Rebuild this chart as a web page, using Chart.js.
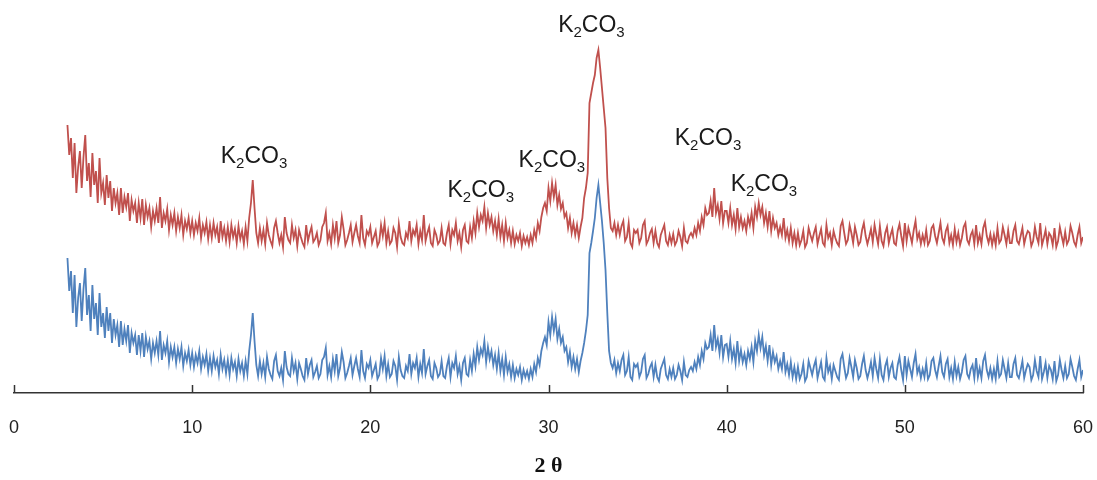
<!DOCTYPE html>
<html>
<head>
<meta charset="utf-8">
<script src="https://cdn.jsdelivr.net/npm/chart.js@4.4.1/dist/chart.umd.min.js"></script>
<style>
  html, body { margin: 0; padding: 0; background: #fff; }
  #wrap { width: 1097px; height: 480px; position: relative; }
</style>
</head>
<body>
<div id="wrap"><canvas id="xrd"></canvas></div>
<script>
'use strict';

// scan angles (2 theta, degrees), one row per degree
const twoTheta = [
  3.0,3.1,3.2,3.3,3.4,3.5,3.6,3.7,3.8,3.9,
  4.0,4.1,4.2,4.3,4.4,4.5,4.6,4.7,4.8,4.9,
  5.0,5.1,5.2,5.3,5.4,5.5,5.6,5.7,5.8,5.9,
  6.0,6.1,6.2,6.3,6.4,6.5,6.6,6.7,6.8,6.9,
  7.0,7.1,7.2,7.3,7.4,7.5,7.6,7.7,7.8,7.9,
  8.0,8.1,8.2,8.3,8.4,8.5,8.6,8.7,8.8,8.9,
  9.0,9.1,9.2,9.3,9.4,9.5,9.6,9.7,9.8,9.9,
  10.0,10.1,10.2,10.3,10.4,10.5,10.6,10.7,10.8,10.9,
  11.0,11.1,11.2,11.3,11.4,11.5,11.6,11.7,11.8,11.9,
  12.0,12.1,12.2,12.3,12.4,12.5,12.6,12.7,12.8,12.9,
  13.0,13.1,13.2,13.3,13.4,13.5,13.6,13.7,13.8,13.9,
  14.0,14.1,14.2,14.3,14.4,14.5,14.6,14.7,14.8,14.9,
  15.0,15.1,15.2,15.3,15.4,15.5,15.6,15.7,15.8,15.9,
  16.0,16.1,16.2,16.3,16.4,16.5,16.6,16.7,16.8,16.9,
  17.0,17.1,17.2,17.3,17.4,17.5,17.6,17.7,17.8,17.9,
  18.0,18.1,18.2,18.3,18.4,18.5,18.6,18.7,18.8,18.9,
  19.0,19.1,19.2,19.3,19.4,19.5,19.6,19.7,19.8,19.9,
  20.0,20.1,20.2,20.3,20.4,20.5,20.6,20.7,20.8,20.9,
  21.0,21.1,21.2,21.3,21.4,21.5,21.6,21.7,21.8,21.9,
  22.0,22.1,22.2,22.3,22.4,22.5,22.6,22.7,22.8,22.9,
  23.0,23.1,23.2,23.3,23.4,23.5,23.6,23.7,23.8,23.9,
  24.0,24.1,24.2,24.3,24.4,24.5,24.6,24.7,24.8,24.9,
  25.0,25.1,25.2,25.3,25.4,25.5,25.6,25.7,25.8,25.9,
  26.0,26.1,26.2,26.3,26.4,26.5,26.6,26.7,26.8,26.9,
  27.0,27.1,27.2,27.3,27.4,27.5,27.6,27.7,27.8,27.9,
  28.0,28.1,28.2,28.3,28.4,28.5,28.6,28.7,28.8,28.9,
  29.0,29.1,29.2,29.3,29.4,29.5,29.6,29.7,29.8,29.9,
  30.0,30.1,30.2,30.3,30.4,30.5,30.6,30.7,30.8,30.9,
  31.0,31.1,31.2,31.3,31.4,31.5,31.6,31.7,31.8,31.9,
  32.0,32.1,32.2,32.3,32.4,32.5,32.6,32.7,32.8,32.9,
  33.0,33.1,33.2,33.3,33.4,33.5,33.6,33.7,33.8,33.9,
  34.0,34.1,34.2,34.3,34.4,34.5,34.6,34.7,34.8,34.9,
  35.0,35.1,35.2,35.3,35.4,35.5,35.6,35.7,35.8,35.9,
  36.0,36.1,36.2,36.3,36.4,36.5,36.6,36.7,36.8,36.9,
  37.0,37.1,37.2,37.3,37.4,37.5,37.6,37.7,37.8,37.9,
  38.0,38.1,38.2,38.3,38.4,38.5,38.6,38.7,38.8,38.9,
  39.0,39.1,39.2,39.3,39.4,39.5,39.6,39.7,39.8,39.9,
  40.0,40.1,40.2,40.3,40.4,40.5,40.6,40.7,40.8,40.9,
  41.0,41.1,41.2,41.3,41.4,41.5,41.6,41.7,41.8,41.9,
  42.0,42.1,42.2,42.3,42.4,42.5,42.6,42.7,42.8,42.9,
  43.0,43.1,43.2,43.3,43.4,43.5,43.6,43.7,43.8,43.9,
  44.0,44.1,44.2,44.3,44.4,44.5,44.6,44.7,44.8,44.9,
  45.0,45.1,45.2,45.3,45.4,45.5,45.6,45.7,45.8,45.9,
  46.0,46.1,46.2,46.3,46.4,46.5,46.6,46.7,46.8,46.9,
  47.0,47.1,47.2,47.3,47.4,47.5,47.6,47.7,47.8,47.9,
  48.0,48.1,48.2,48.3,48.4,48.5,48.6,48.7,48.8,48.9,
  49.0,49.1,49.2,49.3,49.4,49.5,49.6,49.7,49.8,49.9,
  50.0,50.1,50.2,50.3,50.4,50.5,50.6,50.7,50.8,50.9,
  51.0,51.1,51.2,51.3,51.4,51.5,51.6,51.7,51.8,51.9,
  52.0,52.1,52.2,52.3,52.4,52.5,52.6,52.7,52.8,52.9,
  53.0,53.1,53.2,53.3,53.4,53.5,53.6,53.7,53.8,53.9,
  54.0,54.1,54.2,54.3,54.4,54.5,54.6,54.7,54.8,54.9,
  55.0,55.1,55.2,55.3,55.4,55.5,55.6,55.7,55.8,55.9,
  56.0,56.1,56.2,56.3,56.4,56.5,56.6,56.7,56.8,56.9,
  57.0,57.1,57.2,57.3,57.4,57.5,57.6,57.7,57.8,57.9,
  58.0,58.1,58.2,58.3,58.4,58.5,58.6,58.7,58.8,58.9,
  59.0,59.1,59.2,59.3,59.4,59.5,59.6,59.7,59.8,59.9,
  60.0
];

// upper trace (red), offset intensity
const redCounts = [
  268,238,255,215,250,200,226,242,205,236,
  258,212,230,196,240,208,222,190,235,200,
  210,188,218,195,212,182,205,190,200,178,
  205,180,196,186,200,172,193,182,190,170,
  190,175,194,168,188,176,185,166,182,172,
  185,170,196,165,180,172,184,163,178,168,
  180,162,176,165,178,158,172,164,175,160,
  172,158,170,162,175,155,168,160,171,154,
  168,155,170,158,166,150,172,156,165,152,
  166,151,168,156,164,150,167,154,162,149,
  166,152,175,190,213,185,160,150,165,152,
  163,149,170,158,152,147,165,172,160,150,
  158,146,176,160,153,150,168,155,163,147,
  163,156,150,146,168,152,160,166,151,154,
  160,148,153,166,170,180,152,160,149,168,
  155,172,150,158,176,164,148,153,160,168,
  151,160,168,157,150,178,155,148,162,158,
  166,150,156,162,147,151,168,157,170,150,
  162,149,152,165,160,146,169,156,150,148,
  160,155,172,152,163,158,168,149,162,153,
  178,152,160,166,150,147,163,158,149,152,
  165,150,148,160,168,149,163,158,170,152,
  160,146,163,168,152,150,166,155,172,160,
  180,166,178,172,186,165,180,168,176,162,
  172,158,174,156,168,152,170,155,163,150,
  162,149,158,152,160,147,157,150,156,148,
  158,150,163,155,170,162,176,185,190,182,
  205,192,210,196,208,188,198,184,190,176,
  180,165,175,160,170,158,168,155,166,175,
  195,205,220,290,300,310,318,335,343,325,
  305,285,265,215,185,165,162,170,158,168,
  158,167,172,152,156,170,150,146,163,160,
  163,150,155,168,172,149,153,160,164,150,
  162,150,146,158,163,168,152,148,158,150,
  159,148,152,162,156,147,165,152,150,157,
  160,156,165,158,170,162,176,168,185,178,
  180,192,176,205,180,188,174,192,170,182,
  182,170,185,168,178,164,185,166,176,165,
  172,162,176,168,180,165,186,176,190,178,
  186,170,180,166,182,162,175,165,170,158,
  166,158,175,155,163,152,165,150,160,148,
  160,148,153,162,146,150,165,158,152,160,
  166,149,157,164,150,147,168,155,160,148,
  162,155,150,147,167,172,160,149,153,168,
  160,150,166,158,148,151,163,170,157,149,
  156,164,151,168,158,149,167,152,147,160,
  166,150,158,164,150,148,162,169,157,147,
  170,152,165,158,150,163,172,154,160,149,
  158,150,163,148,152,165,168,157,150,160,
  170,155,150,162,167,150,158,148,164,151,
  160,148,155,166,170,153,149,158,162,149,
  168,150,158,149,165,171,157,150,159,148,
  158,148,165,150,153,166,158,149,163,150,
  150,162,168,152,149,157,165,149,157,162,
  160,147,152,166,156,150,170,148,155,163,
  149,160,157,148,165,146,152,166,157,149,
  161,149,153,167,160,151,147,158,166,150,
  156
];

// lower trace (blue)
const blueCounts = [
  135,102,122,80,118,66,95,110,72,104,
  125,78,98,62,108,74,90,58,100,66,
  80,55,86,62,80,50,74,58,68,46,
  72,48,64,52,68,40,60,50,58,38,
  58,42,60,36,56,44,52,34,50,40,
  52,38,62,33,48,40,52,31,46,36,
  46,30,44,34,46,27,40,32,43,28,
  40,26,38,30,42,24,36,28,39,22,
  35,22,37,26,33,19,38,24,33,20,
  33,18,35,24,31,17,34,22,30,17,
  32,19,42,58,80,52,28,17,32,19,
  30,16,36,24,18,14,32,38,22,17,
  25,13,42,26,19,17,35,22,30,14,
  30,24,17,13,35,19,28,33,16,21,
  27,15,19,33,36,45,18,27,16,34,
  22,39,17,25,41,31,15,20,27,35,
  18,27,35,24,16,43,22,15,29,25,
  33,17,23,29,14,18,35,24,37,17,
  29,16,19,32,27,13,36,23,17,15,
  27,22,39,19,30,25,35,16,29,20,
  44,19,27,33,17,14,30,25,16,19,
  32,17,15,27,35,16,30,25,37,19,
  27,13,30,35,19,17,33,22,39,27,
  46,33,44,38,52,31,46,34,42,28,
  38,24,40,22,34,18,36,21,29,16,
  28,15,24,18,26,13,23,16,22,14,
  24,16,29,21,35,28,42,50,56,48,
  71,58,76,62,74,54,64,50,56,42,
  46,31,41,26,36,24,34,21,32,40,
  50,62,78,140,150,162,175,195,208,190,
  172,150,123,80,42,30,25,33,20,30,
  22,33,38,18,22,36,16,13,29,26,
  29,16,21,34,38,15,19,26,30,16,
  28,16,12,24,29,34,18,14,24,16,
  25,14,18,28,22,13,31,18,16,23,
  26,22,31,24,36,28,42,34,50,44,
  46,58,42,68,46,54,40,58,36,48,
  49,36,52,34,44,30,52,32,43,31,
  39,28,42,34,46,31,52,42,58,45,
  56,38,47,32,48,28,41,31,37,24,
  32,24,41,21,29,18,31,16,26,14,
  26,14,19,29,12,16,32,25,18,27,
  33,15,23,31,16,13,35,21,27,14,
  28,22,16,13,34,39,26,15,20,35,
  26,16,33,25,14,17,29,37,23,15,
  22,31,17,35,24,15,34,18,13,27,
  33,16,25,30,16,14,28,36,23,13,
  37,18,32,24,16,30,39,20,26,15,
  24,16,30,14,18,32,35,23,16,27,
  37,21,16,29,34,16,25,14,31,17,
  26,14,21,33,37,19,15,24,28,15,
  35,16,25,15,32,38,23,16,25,14,
  24,14,32,16,19,33,24,15,30,16,
  16,29,35,18,15,23,32,15,23,29,
  26,13,18,33,22,16,37,14,21,30,
  15,27,23,14,32,12,18,33,23,15,
  27,15,19,34,26,17,13,24,33,16,
  23
];

const xTicks = [0, 10, 20, 30, 40, 50, 60];

// peak labels: centre (2 theta) and baseline (counts)
const peakLabelX = [13.47, 26.2, 30.19, 32.41, 38.95, 42.09];
const peakLabelY = [230, 196, 226, 361, 248, 202];
const peakLabelParts = [['K', false], ['2', true], ['CO', false], ['3', true]];

const FONT = "'Liberation Sans', Arial, sans-serif";

const toPoints = (ys) => ys.map((y, i) => ({ x: twoTheta[i], y: y }));

// tick marks point up into the plot
const upTicks = {
  id: 'upTicks',
  afterDraw(chart) {
    const { ctx, chartArea, scales } = chart;
    ctx.save();
    ctx.strokeStyle = '#333';
    ctx.lineWidth = 1.5;
    xTicks.forEach(v => {
      const px = Math.round(scales.x.getPixelForValue(v)) + 0.5;
      ctx.beginPath();
      ctx.moveTo(px, chartArea.bottom);
      ctx.lineTo(px, chartArea.bottom - 8);
      ctx.stroke();
    });
    ctx.restore();
  }
};

const peakLabels = {
  id: 'peakLabels',
  afterDatasetsDraw(chart) {
    const { ctx, scales } = chart;
    ctx.save();
    ctx.fillStyle = '#1a1a1a';
    ctx.textBaseline = 'alphabetic';
    ctx.textAlign = 'left';
    const bigF = '23px ' + FONT;
    const subF = '15px ' + FONT;
    peakLabelX.forEach((lx, k) => {
      let w = 0;
      peakLabelParts.forEach(([t, sub]) => {
        ctx.font = sub ? subF : bigF;
        w += ctx.measureText(t).width;
      });
      let cx = scales.x.getPixelForValue(lx) - w / 2;
      const by = scales.y.getPixelForValue(peakLabelY[k]);
      peakLabelParts.forEach(([t, sub]) => {
        ctx.font = sub ? subF : bigF;
        ctx.fillText(t, cx, sub ? by + 5 : by);
        cx += ctx.measureText(t).width;
      });
    });
    ctx.restore();
  }
};

new Chart(document.getElementById('xrd'), {
  type: 'line',
  data: {
    datasets: [
      {
        label: 'upper',
        data: toPoints(redCounts),
        borderColor: '#C0504D',
        borderWidth: 1.8,
        pointRadius: 0,
        tension: 0,
        fill: false
      },
      {
        label: 'lower',
        data: toPoints(blueCounts),
        borderColor: '#4F81BD',
        borderWidth: 1.8,
        pointRadius: 0,
        tension: 0,
        fill: false
      }
    ]
  },
  options: {
    responsive: true,
    maintainAspectRatio: false,
    animation: false,
    layout: { padding: { left: 14, right: 14, top: 0, bottom: 0 } },
    plugins: {
      legend: { display: false },
      tooltip: { enabled: false }
    },
    scales: {
      x: {
        type: 'linear',
        min: 0,
        max: 60,
        afterBuildTicks: (axis) => { axis.ticks = xTicks.map(v => ({ value: v })); },
        afterFit: (axis) => { axis.height = 87; },
        grid: { display: true, drawOnChartArea: false, drawTicks: true, tickLength: 24, tickColor: 'rgba(0,0,0,0)' },
        border: { display: true, color: '#333', width: 1.5 },
        ticks: {
          padding: 0,
          color: '#222',
          font: { family: FONT, size: 18 },
          maxRotation: 0
        },
        title: {
          display: true,
          text: '2 θ',
          color: '#111',
          font: { family: "'Liberation Serif', 'Times New Roman', serif", size: 22, weight: 'bold' },
          padding: { top: 0, bottom: 0 }
        }
      },
      y: {
        display: false,
        min: 0,
        max: 393
      }
    }
  },
  plugins: [upTicks, peakLabels]
});
</script>
</body>
</html>
